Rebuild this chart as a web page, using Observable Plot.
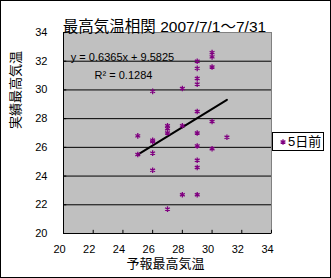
<!DOCTYPE html>
<html>
<head>
<meta charset="utf-8">
<script src="https://cdn.jsdelivr.net/npm/d3@7"></script>
<script src="https://cdn.jsdelivr.net/npm/@observablehq/plot@0.6"></script>
<style>
  html, body { margin: 0; padding: 0; background: #fff; }
  #wrap { position: relative; width: 331px; height: 278px; overflow: hidden;
          font-family: "Liberation Sans", "Noto Sans CJK JP", sans-serif; }
  #wrap svg { position: absolute; left: 0; top: 0; }
  #border { position: absolute; left: 0; top: 0; width: 331px; height: 278px;
            box-sizing: border-box; border: 1px solid #000; pointer-events: none; }
  #legend { position: absolute; left: 272px; top: 132px; width: 52px; height: 19px;
            box-sizing: border-box; border: 1px solid #000; background: #fff;
            font-size: 13px; line-height: 17px; white-space: nowrap; }
  #legend svg { position: static; vertical-align: top; margin: 0 1px 0 6px; }
</style>
</head>
<body>
<div id="wrap"><div id="border"></div></div>
<script>
const title = "最高気温相関 2007/7/1～7/31";
const xLabel = "予報最高気温";
const yLabel = "実績最高気温";
const seriesName = "5日前";
const forecast = [26, 28, 29, 29, 29, 29, 30, 30, 30, 29, 30, 27, 28, 25, 27, 27, 29, 31, 26, 26, 29, 30, 25, 26, 29, 29, 26, 28, 29, 27];
const actual   = [29.9, 30.1, 32.0, 31.5, 30.8, 30.4, 32.6, 32.3, 31.6, 28.5, 27.8, 27.5, 27.5, 26.8, 27.3, 27.0, 27.0, 26.7, 26.5, 26.4, 26.1, 25.9, 25.5, 25.6, 25.1, 24.6, 24.4, 22.7, 22.7, 21.7];
const slope = 0.6365;
const intercept = 9.5825;
const r2 = 0.1284;
const xTicks = [20, 22, 24, 26, 28, 30, 32, 34];
const yTicks = [20, 22, 24, 26, 28, 30, 32, 34];
const gridY = [22, 24, 26, 28, 30, 32];

const data = forecast.map((f, i) => ({x: f, y: actual[i]}));
const [xmin, xmax] = d3.extent(forecast);
const trend = [xmin, xmax].map(x => ({x, y: slope * x + intercept}));
const eq1 = `y = ${slope}x + ${intercept}`;
const eq2 = `R² = ${r2}`;

const purple = "#800080";
const R = 2.6;

const chart = Plot.plot({
  width: 331,
  height: 278,
  marginLeft: 63,
  marginRight: 60,
  marginTop: 32,
  marginBottom: 45,
  style: {fontFamily: '"Liberation Sans", "Noto Sans CJK JP", sans-serif', fontSize: "11px", background: "transparent", color: "#000"},
  x: {domain: [20, 34]},
  y: {domain: [20, 34]},
  marks: [
    Plot.frame({fill: "#C0C0C0", stroke: "#808080"}),
    Plot.ruleY(gridY, {stroke: "#000", strokeWidth: 1}),
    Plot.ruleX(xTicks, {x: d => d, y1: 20, y2: 20.22, stroke: "#000"}),
    Plot.ruleY(yTicks, {y: d => d, x1: 20, x2: 20.22, stroke: "#000"}),
    Plot.ruleX([20], {stroke: "#000"}),
    Plot.ruleY([20], {stroke: "#000"}),
    Plot.axisX({ticks: xTicks, tickSize: 0, tickPadding: 12, dx: -4, fontSize: 11, fill: "#000", label: null}),
    Plot.axisY({ticks: yTicks, tickSize: 0, tickPadding: 16, fontSize: 11, fill: "#000", label: null}),
    Plot.text([xLabel], {text: d => d, frameAnchor: "bottom", dx: -2, dy: 34, fontSize: 13, fill: "#000"}),
    Plot.text([yLabel], {text: d => d, frameAnchor: "left", dx: -48, dy: -4, rotate: -90, fontSize: 13, fill: "#000"}),
    Plot.line(trend, {x: "x", y: "y", stroke: "#000", strokeWidth: 2}),
    Plot.dot(data, {x: "x", y: "y", symbol: "asterisk", stroke: purple, r: R, strokeWidth: 1.3}),
    Plot.text([eq1], {text: d => d, frameAnchor: "top-left", dx: 59, dy: 20.5, textAnchor: "middle", fontSize: 11, fill: "#000"}),
    Plot.text([eq2], {text: d => d, frameAnchor: "top-left", dx: 60, dy: 38.5, textAnchor: "middle", fontSize: 11, fill: "#000"}),
    Plot.text([title], {text: d => d, frameAnchor: "top", dx: -3, dy: -12, fontSize: 15.5, fill: "#000"})
  ]
});

const wrap = document.getElementById("wrap");
wrap.insertBefore(chart, wrap.firstChild);

const legend = document.createElement("div");
legend.id = "legend";
const sym = d3.create("svg").attr("width", 8).attr("height", 17);
sym.append("path")
  .attr("transform", "translate(4,9)")
  .attr("d", d3.symbol(d3.symbolAsterisk, R * R * Math.PI)())
  .attr("stroke", purple).attr("stroke-width", 1.3).attr("fill", "none");
legend.appendChild(sym.node());
legend.appendChild(document.createTextNode(seriesName));
wrap.appendChild(legend);
</script>
</body>
</html>
